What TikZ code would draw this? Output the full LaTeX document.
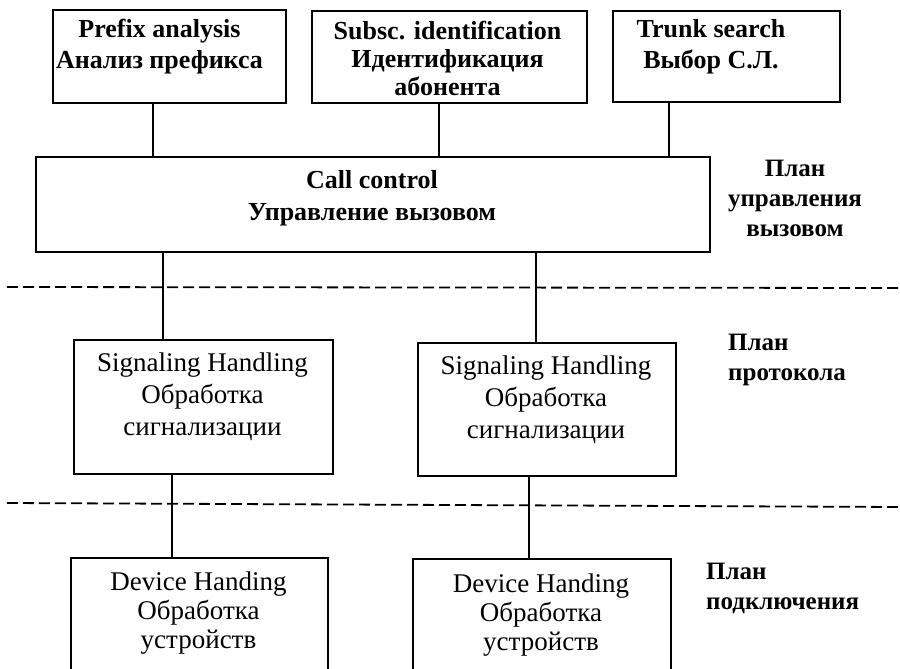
\documentclass[tikz,border=0pt]{standalone}
\usepackage{fontspec}
\setmainfont{Liberation Serif}
\begin{document}
\begin{tikzpicture}[x=1pt,y=-1pt,
  blk/.style={draw, line width=1.8pt, inner sep=0pt, anchor=north west},
  bhead/.style={font=\bfseries\fontsize{26}{31}\selectfont, align=center, inner sep=0pt},
  reg/.style={font=\fontsize{27}{32}\selectfont, align=center, inner sep=0pt},
  plan/.style={font=\bfseries\fontsize{25}{30}\selectfont, inner sep=0pt},
  wire/.style={draw, line width=2pt},
  sep/.style={draw, line width=1.8pt, dash pattern=on 11pt off 5pt}]
\useasboundingbox (0,0) rectangle (900,669);
\clip (0,0) rectangle (900,669);

% upper row of function blocks
\node[blk, minimum width=233pt, minimum height=93pt] (pa) at (52,9) {};
\node[bhead] (paT) at (159.5,46.5) {Prefix analysis\\Анализ префикса};
\node[blk, minimum width=275pt, minimum height=92pt] (si) at (311,10) {};
\node[bhead, font=\bfseries\fontsize{26}{28}\selectfont] (siT) at (447.5,58.5) {Subsc. identification\\Идентификация\\абонента};
\node[blk, minimum width=227pt, minimum height=91pt] (ts) at (612,10) {};
\node[bhead] (tsT) at (711,46.5) {Trunk search\\Выбор С.Л.};

% call control plane
\node[blk, minimum width=674pt, minimum height=95pt] (cc) at (35,156) {};
\node[bhead, font=\bfseries\fontsize{26}{32}\selectfont] (ccT) at (372,198) {Call control\\Управление вызовом};
\node[plan, align=center] (p1) at (795,198.5) {План\\управления\\вызовом};

% plane separators
\coordinate (d1l) at (7,287);
\coordinate (d1r) at (900,288);
\coordinate (d2l) at (7,503);
\coordinate (d2r) at (900,507);
\draw[sep] (d1l) -- (d1r);
\draw[sep] (d2l) -- (d2r);

% protocol plane
\node[blk, minimum width=259pt, minimum height=134pt] (sh1) at (73,339) {};
\node[reg] (sh1T) at (202.5,397) {Signaling Handling\\Обработка\\сигнализации};
\node[blk, minimum width=258pt, minimum height=133pt] (sh2) at (417,342) {};
\node[reg] (sh2T) at (546,400) {Signaling Handling\\Обработка\\сигнализации};
\node[plan, align=left, anchor=west] (p2) at (728,360) {План\\протокола};

% connection plane
\node[blk, minimum width=257pt, minimum height=140pt] (dh1) at (70,557) {};
\node[reg, font=\fontsize{27}{29}\selectfont] (dh1T) at (198.5,613) {Device Handing\\Обработка\\устройств};
\node[blk, minimum width=258pt, minimum height=140pt] (dh2) at (412,558) {};
\node[reg, font=\fontsize{27}{29}\selectfont] (dh2T) at (541,615) {Device Handing\\Обработка\\устройств};
\node[plan, align=left, anchor=west] (p3) at (706,588) {План\\подключения};

% links between blocks
\draw[wire] ([xshift=-16.5pt]pa.south) -- ([xshift=-16.5pt]pa.south |- cc.north);
\draw[wire] ([xshift=-10.5pt]si.south) -- ([xshift=-10.5pt]si.south |- cc.north);
\draw[wire] ([xshift=-57.5pt]ts.south) -- ([xshift=-57.5pt]ts.south |- cc.north);
\draw[wire] ([xshift=-40.5pt]sh1.north |- cc.south) -- ([xshift=-40.5pt]sh1.north);
\draw[wire] ([xshift=-11pt]sh2.north |- cc.south) -- ([xshift=-11pt]sh2.north);
\draw[wire] ([xshift=-31.5pt]sh1.south) -- ([xshift=-31.5pt]sh1.south |- dh1.north);
\draw[wire] ([xshift=-18pt]sh2.south) -- ([xshift=-18pt]sh2.south |- dh2.north);
\end{tikzpicture}
\end{document}
